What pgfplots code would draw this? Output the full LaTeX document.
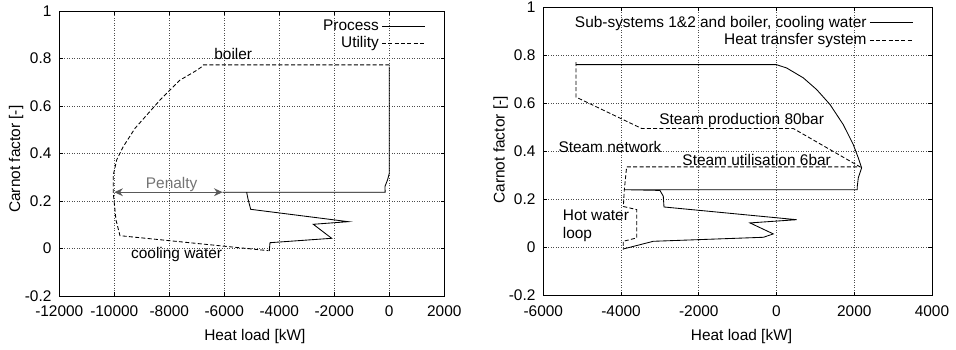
\documentclass[border=0pt]{standalone}
\usepackage{fontspec}
\setmainfont{Liberation Sans}
\usepackage{pgfplots}
\pgfplotsset{compat=1.18}
\usetikzlibrary{arrows.meta}
\pgfplotsset{
  gp/.style={
    scale only axis,
    tick align=inside,
    major tick length=2.5pt,
    grid=major,
    major grid style={black!70, line width=0.45pt, dash pattern=on 0.45pt off 1.3pt},
    axis line style={line width=0.7pt},
    every tick/.style={black, line width=0.5pt},
    scaled ticks=false,
    ymin=-0.2, ymax=1,
    ytick={-0.2,0,0.2,0.4,0.6,0.8,1},
    yticklabels={-0.2,0,0.2,0.4,0.6,0.8,1},
    xticklabel style={anchor=base, yshift=-14.5pt},
    yticklabel style={xshift=-1.7pt},
    xlabel={Heat load [kW]},
    ylabel={Carnot factor [-]},
    legend cell align=right,
    legend plot pos=right,
    legend image code/.code={\draw[#1] (0pt,0pt) -- (30pt,0pt);},
    legend style={draw=none, fill=none, at={(1,1)}, anchor=north east,
      xshift=-12pt, yshift=-3pt, inner sep=1pt, row sep=-1.5pt,
      /tikz/every even column/.append style={column sep=3pt}},
  },
  proc/.style={black, line width=0.6pt},
  util/.style={black, line width=0.6pt, dash pattern=on 2.8pt off 1.6pt},
}
\begin{document}
\fontsize{10.8}{12.9}\selectfont
\begin{tikzpicture}
\useasboundingbox (0pt,0pt) rectangle (669.2pt,-244.3pt);
% ---------------- left
\begin{axis}[gp, at={(41.5pt,-207.2pt)}, anchor=south west,
  width=269.5pt, height=199.5pt,
  xmin=-12000, xmax=2000,
  xtick={-12000,-10000,-8000,-6000,-4000,-2000,0,2000},
  xticklabels={-12000,-10000,-8000,-6000,-4000,-2000,0,2000},
  xlabel style={at={(axis description cs:0.508,0)}, anchor=base, yshift=-30.8pt},
  ylabel style={at={(axis description cs:-0.1124,0.48)}, anchor=center},
]
\addplot[proc] coordinates {
(0,0.766) (0,0.317) (-60,0.29) (-158,0.261) (-150,0.237) (-6061,0.237)
(-5188,0.237) (-5130,0.205) (-5040,0.165) (-1491,0.113) (-2764,0.102)
(-2095,0.043) (-4338,0.0245) (-4364,-0.0105)
};
\addlegendentry{Process}
\addplot[util] coordinates {
(0,0.773) (-6764,0.773) (-6822,0.765) (-7006,0.750) (-7611,0.709) (-8338,0.625)
(-9247,0.506) (-9673,0.429) (-9913,0.373) (-10036,0.309) (-10036,0.232)
(-9938,0.12) (-9793,0.054) (-4400,-0.009)
};
\addlegendentry{Utility}
\addplot[black!65, line width=0.8pt, forget plot,
  {Stealth[length=6pt,width=5.5pt]}-{Stealth[length=6pt,width=5.5pt]}]
  coordinates {(-10000,0.237) (-6061,0.237)};
\node[black!55] at (axis cs:-7915,0.271) {Penalty};
\node at (axis cs:-5673,0.82) {boiler};
\node at (axis cs:-7733,-0.024) {cooling water};
\end{axis}
% ---------------- right
\begin{axis}[gp, at={(380.3pt,-206.7pt)}, anchor=south west,
  width=272.1pt, height=201.6pt,
  xmin=-6000, xmax=4000,
  xtick={-6000,-4000,-2000,0,2000,4000},
  xticklabels={-6000,-4000,-2000,0,2000,4000},
  xlabel style={at={(axis description cs:0.51,0)}, anchor=base, yshift=-31.3pt},
  ylabel style={at={(axis description cs:-0.1095,0.505)}, anchor=center},
]
\addplot[proc] coordinates {
(-5160,0.761) (0,0.761) (262,0.747) (689,0.706) (1034,0.657) (1376,0.595)
(1718,0.511) (1975,0.428) (2104,0.3725) (2190,0.331) (2104,0.289)
(2078,0.254) (2078,0.24) (-3898,0.24) (-3000,0.237)
(-2913,0.213) (-2895,0.168) (518,0.115) (-683,0.1016) (-82,0.0557)
(-340,0.0417) (-3170,0.025) (-3942,-0.007)
};
\addlegendentry{Sub-systems 1\&2 and boiler, cooling water}
\addplot[util] coordinates {
(-5160,0.772) (-5160,0.626) (-3469,0.495) (432,0.495) (2150,0.335)
(-3856,0.335) (-3916,0.238) (-3940,0.17) (-3597,0.157) (-3597,0.039)
(-3942,0.025) (-3942,-0.01)
};
\addlegendentry{Heat transfer system}
\node at (axis cs:-897,0.530) {Steam production 80bar};
\node at (axis cs:-4285,0.417) {Steam network};
\node at (axis cs:-511,0.362) {Steam utilisation 6bar};
\node[align=left, anchor=west, inner sep=0pt] at (axis cs:-5503,0.089) {Hot water\\loop};
\end{axis}
\end{tikzpicture}
\end{document}
